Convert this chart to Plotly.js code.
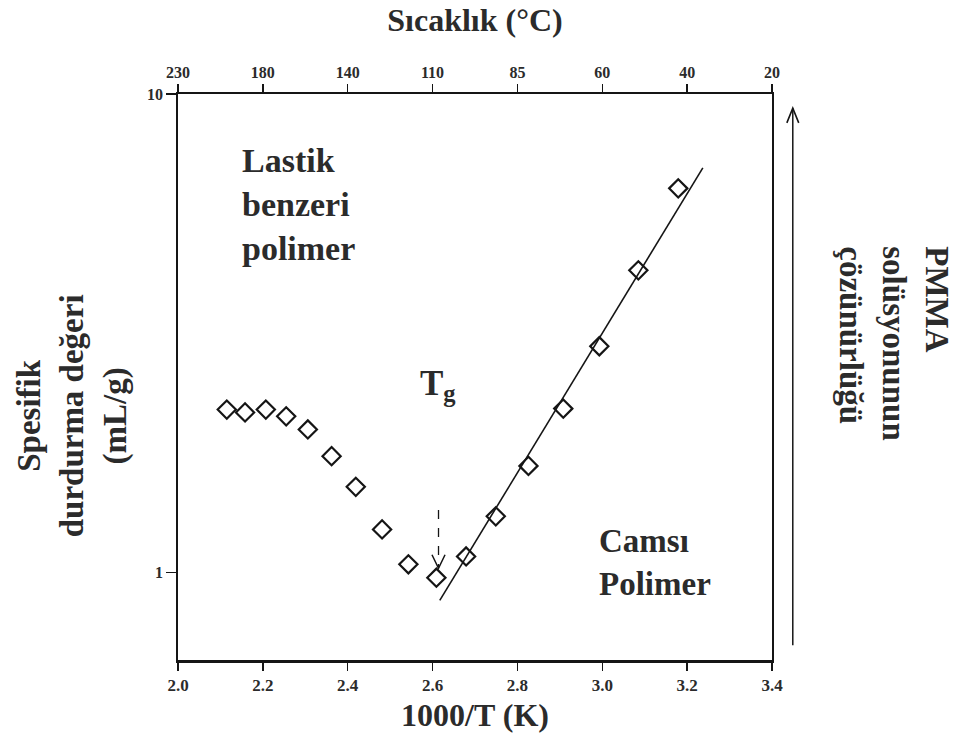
<!DOCTYPE html>
<html>
<head>
<meta charset="utf-8">
<script src="https://cdn.plot.ly/plotly-3.0.1.min.js"></script>
<style>html,body{margin:0;padding:0;background:#fff;}#chart{width:955px;height:747px;}</style>
</head>
<body>
<div id="chart"></div>
<script>
// 1000/T (K) values of the measured points
const invTemp = [2.115, 2.158, 2.207, 2.255, 2.306, 2.362, 2.419, 2.481, 2.543, 2.609,
                 2.679, 2.749, 2.826, 2.908, 2.993, 3.085, 3.179];
// Specific retention values (mL/g)
const specRetention = [2.19, 2.16, 2.19, 2.12, 1.99, 1.75, 1.51, 1.23, 1.04, 0.975,
                       1.08, 1.31, 1.67, 2.20, 2.97, 4.28, 6.35];
// Fitted line (glassy region)
const fitX = [2.617, 3.237];
const fitY = [0.874, 7.01];
// Axis ticks
const bottomTickVals = [2.0, 2.2, 2.4, 2.6, 2.8, 3.0, 3.2, 3.4];
const bottomTickText = ['2.0', '2.2', '2.4', '2.6', '2.8', '3.0', '3.2', '3.4'];
const topTickText = ['230', '180', '140', '110', '85', '60', '40', '20'];
const yTickVals = [1, 10];
const yTickText = ['1', '10'];
// Tg marker arrow: points at the Tg value
const tgX = 2.614, tgY = 1.02, tgTailY = 1.35;

const X_RANGE = [2.0, 3.4];
const Y_RANGE = [-0.183, 1.0];   // log10 range

const FONT = 'Liberation Serif, Times New Roman, serif';
const TXT = '#2b2b2b';
const INK = '#151515';

const traces = [
  {x: fitX, y: fitY, mode: 'lines', line: {color: INK, width: 1.6},
   hoverinfo: 'skip', showlegend: false},
  {x: invTemp, y: specRetention, mode: 'markers',
   marker: {symbol: 'diamond-open', size: 14, color: INK, line: {width: 2.2, color: INK}},
   showlegend: false},
  {x: fitX, y: fitY, xaxis: 'x2', mode: 'lines', line: {width: 0}, opacity: 0,
   hoverinfo: 'skip', showlegend: false}
];

// convert data values to paper fractions for the arrow decorations
const px = v => (v - X_RANGE[0]) / (X_RANGE[1] - X_RANGE[0]);
const py = v => (Math.log10(v) - Y_RANGE[0]) / (Y_RANGE[1] - Y_RANGE[0]);
const ax0 = px(tgX), ayH = py(tgY), ayT = py(tgTailY);
const hx = 0.011, hy = 0.024;   // arrowhead half-width / length (paper)
const rx = 1.035, ry0 = 0.026, ry1 = 0.975, rhx = 0.010, rhy = 0.026;

const shapes = [
  {type: 'line', xref: 'paper', yref: 'paper', x0: ax0, x1: ax0, y0: ayT, y1: ayH,
   line: {color: INK, width: 1.3, dash: 'dash'}},
  {type: 'path', xref: 'paper', yref: 'paper',
   path: `M ${ax0 - hx} ${ayH + hy} L ${ax0} ${ayH} L ${ax0 + hx} ${ayH + hy}`,
   line: {color: INK, width: 1.5}},
  {type: 'line', xref: 'paper', yref: 'paper', x0: rx, x1: rx, y0: ry0, y1: ry1,
   line: {color: INK, width: 1.5}},
  {type: 'path', xref: 'paper', yref: 'paper',
   path: `M ${rx - rhx} ${ry1 - rhy} L ${rx} ${ry1} L ${rx + rhx} ${ry1 - rhy}`,
   line: {color: INK, width: 1.6}}
];

const layout = {
  width: 955, height: 747,
  margin: {l: 178, r: 183, t: 94, b: 87},
  paper_bgcolor: '#fff', plot_bgcolor: '#fff',
  font: {family: FONT, color: TXT},
  shapes: shapes,
  xaxis: {
    range: X_RANGE, tickvals: bottomTickVals, ticktext: bottomTickText,
    showgrid: false, zeroline: false, showline: true, linecolor: INK, linewidth: 2.5,
    ticks: 'outside', ticklen: 8, tickwidth: 1.5, tickcolor: INK,
    tickfont: {family: FONT, size: 17, weight: 'bold', color: TXT},
    title: {text: '1000/T (K)', font: {family: FONT, size: 32, weight: 'bold', color: TXT}, standoff: 10}
  },
  xaxis2: {
    overlaying: 'x', side: 'top', anchor: 'y',
    range: X_RANGE, tickvals: bottomTickVals, ticktext: topTickText,
    showgrid: false, zeroline: false, showline: true, linecolor: INK, linewidth: 1.8,
    ticks: 'outside', ticklen: 8, tickwidth: 1.5, tickcolor: INK,
    tickfont: {family: FONT, size: 16, weight: 'bold', color: TXT},
    title: {text: 'Sıcaklık (°C)', font: {family: FONT, size: 32, weight: 'bold', color: TXT}, standoff: 22}
  },
  yaxis: {
    type: 'log', range: Y_RANGE, tickvals: yTickVals, ticktext: yTickText,
    showgrid: false, zeroline: false, showline: true, mirror: true, linecolor: INK, linewidth: 1.8,
    ticks: 'outside', ticklen: 10, tickwidth: 1.5, tickcolor: INK,
    tickfont: {family: FONT, size: 16, weight: 'bold', color: TXT}
  },
  annotations: [
    {xref: 'paper', yref: 'paper', x: -0.178, y: 0.431, xanchor: 'center', yanchor: 'middle',
     align: 'center', showarrow: false, textangle: -90,
     text: 'Spesifik<br>durdurma değeri<br>(mL/g)',
     font: {family: FONT, size: 33, weight: 'bold', color: TXT}},
    {xref: 'paper', yref: 'paper', x: 0.105, y: 0.918, xanchor: 'left', yanchor: 'top',
     align: 'left', showarrow: false,
     text: 'Lastik<br>benzeri<br>polimer',
     font: {family: FONT, size: 34, weight: 'bold', color: TXT}},
    {xref: 'paper', yref: 'paper', x: 0.706, y: 0.245, xanchor: 'left', yanchor: 'top',
     align: 'left', showarrow: false,
     text: 'Camsı<br>Polimer',
     font: {family: FONT, size: 33, weight: 'bold', color: TXT}},
    {xref: 'paper', yref: 'paper', x: 0.438, y: 0.485, xanchor: 'center', yanchor: 'middle',
     showarrow: false, text: 'T<sub>g</sub>',
     font: {family: FONT, size: 35, weight: 'bold', color: TXT}},
    {xref: 'paper', yref: 'paper', x: 1.205, y: 0.56, xanchor: 'center', yanchor: 'middle',
     align: 'left', showarrow: false, textangle: 90,
     text: 'PMMA<br>solüsyonunun<br>çözünürlüğü',
     font: {family: FONT, size: 33, weight: 'bold', color: TXT}}
  ]
};

Plotly.newPlot('chart', traces, layout, {displayModeBar: false, staticPlot: true});
</script>
</body>
</html>
